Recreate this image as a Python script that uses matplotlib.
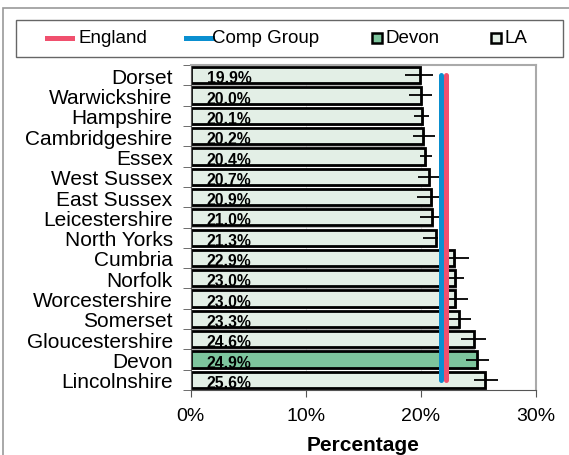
import numpy as np
import matplotlib.pyplot as plt
import matplotlib.patheffects as pe
from matplotlib.lines import Line2D
from matplotlib.patches import Rectangle

plt.rcParams['font.family'] = ['Liberation Sans', 'DejaVu Sans']

areas = ['Dorset', 'Warwickshire', 'Hampshire', 'Cambridgeshire', 'Essex',
         'West Sussex', 'East Sussex', 'Leicestershire', 'North Yorks',
         'Cumbria', 'Norfolk', 'Worcestershire', 'Somerset',
         'Gloucestershire', 'Devon', 'Lincolnshire']
values = [19.9, 20.0, 20.1, 20.2, 20.4, 20.7, 20.9, 21.0, 21.3,
          22.9, 23.0, 23.0, 23.3, 24.6, 24.9, 25.6]
err_low = [18.6, 19.0, 19.4, 19.3, 19.9, 19.8, 19.7, 19.9, 20.2,
           21.6, 22.2, 21.9, 22.2, 23.5, 23.9, 24.6]
err_high = [21.1, 21.0, 20.75, 21.2, 21.0, 21.6, 21.6, 21.6, 21.5,
            24.2, 23.8, 24.1, 24.4, 25.7, 25.9, 26.7]
england = 22.2
comp_group = 21.8
highlight = 'Devon'

la_col = '#e3efe6'
dev_col = '#7dc59d'
eng_col = '#f0506e'
comp_col = '#0a8fd0'

W, H = 569, 456
fig = plt.figure(figsize=(W / 100, H / 100), dpi=100)

def fx(px):
    return px / W

def fy(py):
    return 1 - py / H

# outer chart border (runs off the right and bottom edges)
fig.add_artist(Rectangle((fx(3), -0.1), 1.2, fy(9) + 0.1, transform=fig.transFigure,
                         fill=False, edgecolor='#999999', lw=1.2))

ax = fig.add_axes([fx(190.7), fy(391), fx(535.7) - fx(190.7), fy(66) - fy(391)])

y = np.arange(len(areas))
colors = [dev_col if a == highlight else la_col for a in areas]
bars = ax.barh(y, values, height=0.8, color=colors, edgecolor='black', linewidth=2, zorder=2)
for b in bars:
    b.set_path_effects([pe.SimplePatchShadow(offset=(1.2, -1.8), shadow_rgbFace='#888888',
                                             alpha=0.6), pe.Normal()])

vals = np.array(values)
xerr = [vals - np.array(err_low), np.array(err_high) - vals]
ax.errorbar(values, y, xerr=xerr, fmt='none', ecolor='black', elinewidth=1.3,
            capsize=0, zorder=3)

for yi, v in zip(y, values):
    ax.text(1.4, yi + 0.13, f'{v:.1f}%', ha='left', va='center',
            fontsize=11.3, fontweight='bold', zorder=5)

ax.plot([comp_group, comp_group], [0, len(areas) - 1], color=comp_col, lw=3.6,
        solid_capstyle='round', zorder=4)
ax.plot([england, england], [0, len(areas) - 1], color=eng_col, lw=3.6,
        solid_capstyle='round', zorder=4)

ax.set_xlim(0, 30)
ax.set_ylim(len(areas) - 0.5, -0.5)
ax.set_xticks([0, 10, 20, 30])
ax.set_xticklabels(['0%', '10%', '20%', '30%'], fontsize=14)
ax.set_yticks(y)
ax.set_yticklabels(areas, fontsize=15)
ax.tick_params(axis='y', length=0, pad=13)
ax.set_yticks(np.arange(-0.5, len(areas)), minor=True)
ax.tick_params(axis='y', which='minor', length=6, color='#555555')
ax.tick_params(axis='x', length=5, color='#555555', pad=7)
ax.xaxis.grid(True, color='#dddddd', lw=0.8, zorder=0)
ax.set_axisbelow(True)
for s in ['top', 'right']:
    ax.spines[s].set_color('#aaaaaa')
    ax.spines[s].set_linewidth(1.5)
ax.spines['left'].set_color('#555555')
ax.spines['bottom'].set_color('#555555')
ax.set_xlabel('Percentage', fontsize=15, fontweight='bold', labelpad=8)

# legend box drawn by hand to match the original spacing
fig.add_artist(Rectangle((fx(15.7), fy(58)), fx(563) - fx(15.7), fy(20.7) - fy(58),
                         transform=fig.transFigure, fill=False, edgecolor='#666666', lw=1.0))
ly = fy(38.5)
fig.add_artist(Line2D([fx(47), fx(72)], [ly, ly], color=eng_col, lw=3.6,
                      transform=fig.transFigure))
fig.text(fx(79), ly, 'England', fontsize=13.5, va='center', ha='left')
fig.add_artist(Line2D([fx(186), fx(212)], [ly, ly], color=comp_col, lw=3.6,
                      transform=fig.transFigure))
fig.text(fx(212), ly, 'Comp Group', fontsize=13.5, va='center', ha='left')
for x0, fc, lab in [(371.5, dev_col, 'Devon'), (490.5, la_col, 'LA')]:
    fig.add_artist(Rectangle((fx(x0), fy(44)), fx(10.5), fy(33.5) - fy(44),
                             transform=fig.transFigure, facecolor=fc,
                             edgecolor='black', lw=1.8))
    fig.text(fx(x0 + 14), ly, lab, fontsize=13.5, va='center', ha='left')

fig.savefig('out.png', dpi=100)
